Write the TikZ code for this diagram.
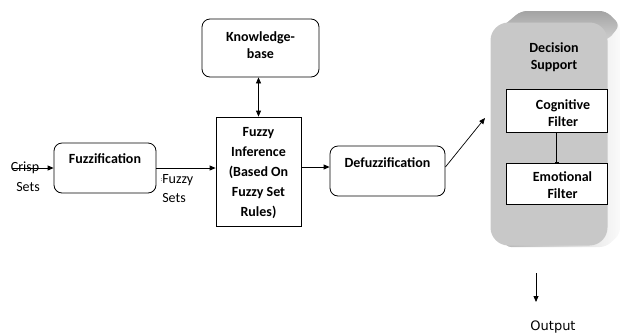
\documentclass[tikz,border=0pt]{standalone}
\usepackage{fontspec}
\setmainfont{Carlito}
\newfontfamily\outfont{DejaVu Sans}
\usetikzlibrary{arrows.meta}

\definecolor{dsfront}{RGB}{200,200,200}

\begin{document}
\begin{tikzpicture}[x=1pt,y=-1pt,
  line width=0.8pt,
  arr/.style={-{Triangle[length=6pt,width=5pt]}},
  roundbox/.style={draw,rounded corners=8pt,inner sep=0pt,fill=white},
  sqbox/.style={draw,inner sep=0pt,fill=white},
  btxt/.style={font=\bfseries\fontsize{14}{17}\selectfont,align=center,inner sep=0pt},
  rtxt/.style={font=\fontsize{14}{18}\selectfont,align=center,inner sep=0pt}]
\useasboundingbox (0,0) rectangle (620,333);

% ---------- boxes ----------
\node[roundbox,minimum width=102pt,minimum height=50pt] (fuzz) at (105,168) {};
\node[btxt] (fuzzt) at (105,159) {Fuzzification};

\node[roundbox,minimum width=117pt,minimum height=58pt] (kb) at (260.5,48) {};
\node[btxt] (kbt) at (260.5,45.5) {Knowledge-\\base};

\node[sqbox,minimum width=85pt,minimum height=109pt] (inf) at (258.5,171.5) {};
\node[btxt,font=\bfseries\fontsize{14}{20}\selectfont] (inft) at (258.5,173)
  {Fuzzy\\Inference\\(Based On\\Fuzzy Set\\Rules)};

\node[roundbox,minimum width=115pt,minimum height=50pt] (defuzz) at (387.5,171) {};
\node[btxt] (defuzzt) at (387.5,163) {Defuzzification};

% ---------- decision support block (3D bevelled slab) ----------
% side faces, seen behind the front face
\path[rounded corners=6pt,left color=gray!60,right color=gray!4]
  (496,32) -- (521,11) -- (606,11) -- (620,25) -- (620,234) -- (606,247)
  -- (505,247) -- cycle;
% top face
\path[rounded corners=6pt,top color=gray!72,bottom color=gray!38]
  (496,32) -- (521,11) -- (606,11) -- (620,25) -- (608,40) -- cycle;
% front face
\node[fill=dsfront,rounded corners=18pt,inner sep=0pt,
      minimum width=117pt,minimum height=223pt] (ds) at (549,134) {};
\node[btxt] (dst) at (554,57) {Decision\\Support};

\node[sqbox,minimum width=101pt,minimum height=43pt] (cog) at (556.5,110.5) {};
\node[btxt] (cogt) at (563,113.5) {Cognitive\\Filter};
\node[sqbox,minimum width=101pt,minimum height=41pt] (emo) at (556.5,183.5) {};
\node[btxt] (emot) at (562.5,185) {Emotional\\Filter};

% ---------- free labels ----------
\node[rtxt] (crisp) at (25,168) {Crisp};
\node[rtxt] (csets) at (28,187) {Sets};
\node[rtxt] (fz) at (177,180) {\raisebox{2pt}{\fontsize{6}{6}\selectfont:}Fuzzy};
\node[rtxt] (fsets) at (174,198) {Sets};
\node[font=\outfont\fontsize{13}{15}\selectfont,inner sep=0pt] (out) at (553,327) {Output};

% ---------- connector end points ----------
\coordinate (cin) at (12,168);
\coordinate (y167) at (0,167);
\coordinate (dsin) at (485,118);
\coordinate (otop) at (536,273);
\coordinate (obot) at (536,302);

% ---------- connectors ----------
\draw[arr] (cin) -- (fuzz.west);
\draw[arr] (fuzz.east) -- (fuzz.east -| inf.west);
\draw[{Triangle[length=6pt,width=5pt]}-{Triangle[length=6pt,width=5pt]}]
  (kb.south -| inf.north) -- (inf.north);
\draw[arr] (inf.east |- y167) -- (defuzz.west |- y167);
\draw[arr,line width=0.7pt] (defuzz.east |- y167) -- (dsin);
\draw[-{Bar[width=4pt]}] (cog.south) -- (emo.north);
\draw[arr] (otop) -- (obot);
\end{tikzpicture}
\end{document}
